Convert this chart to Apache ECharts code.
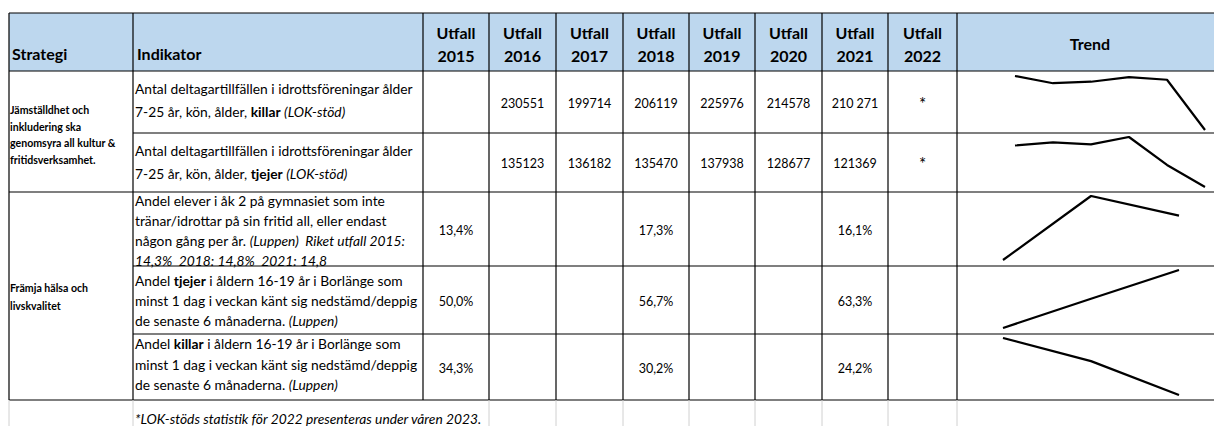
<!DOCTYPE html>
<html>
<head>
<meta charset="utf-8">
<style>
    html, body { margin: 0; padding: 0; background: #fff; }
    #trendTable { width: 1214px; height: 426px; }
</style>
<script src="https://cdn.jsdelivr.net/npm/echarts@6/dist/echarts.min.js"></script>
</head>
<body>
<div id="trendTable"></div>
<script>
    // kolumner
    var years = ['2015', '2016', '2017', '2018', '2019', '2020', '2021', '2022'];
    var strategies = [
        'Jämställdhet och\ninkludering ska\ngenomsyra all kultur &\nfritidsverksamhet.',
        'Främja hälsa och\nlivskvalitet'
    ];
    // {b|..} = fet, {i|..} = kursiv
    var indicators = [
        'Antal deltagartillfällen i idrottsföreningar ålder\n7-25 år, kön, ålder, {b|killar} {i|(LOK-stöd)}',
        'Antal deltagartillfällen i idrottsföreningar ålder\n7-25 år, kön, ålder, {b|tjejer} {i|(LOK-stöd)}',
        'Andel elever i åk 2 på gymnasiet som inte\ntränar/idrottar på sin fritid all, eller endast\nnågon gång per år. {i|(Luppen)  Riket utfall 2015:}\n{i|14,3%  2018: 14,8%  2021: 14,8}',
        'Andel {b|tjejer} i åldern 16-19 år i Borlänge som\nminst 1 dag i veckan känt sig nedstämd/deppig\nde senaste 6 månaderna. {i|(Luppen)}',
        'Andel {b|killar} i åldern 16-19 år i Borlänge som\nminst 1 dag i veckan känt sig nedstämd/deppig\nde senaste 6 månaderna. {i|(Luppen)}'
    ];
    var footnote = '*LOK-stöds statistik för 2022 presenteras under våren 2023.';

    // utfall per år 2015-2022, som de står i tabellen
    var utfallKillarLok = ['', '230551', '199714', '206119', '225976', '214578', '210 271', '*'];
    var utfallTjejerLok = ['', '135123', '136182', '135470', '137938', '128677', '121369', '*'];
    var utfallEjTranar = ['13,4%', '', '', '17,3%', '', '', '16,1%', ''];
    var utfallTjejerNedstamd = ['50,0%', '', '', '56,7%', '', '', '63,3%', ''];
    var utfallKillarNedstamd = ['34,3%', '', '', '30,2%', '', '', '24,2%', ''];

    // trendlinjer (sparklines). LOK 2016-2021; "210 271" är text och räknas som 0
    var trendYearsLok = ['2016', '2017', '2018', '2019', '2020', '2021'];
    var trendKillarLok = [230551, 199714, 206119, 225976, 214578, 0];
    var trendTjejerLok = [135123, 136182, 135470, 137938, 128677, 121369];
    // Luppen 2015-2021
    var trendYearsLuppen = ['2015', '2016', '2017', '2018', '2019', '2020', '2021'];
    var trendEjTranar = [13.4, null, null, 17.3, null, null, 16.1];
    var trendTjejerNedstamd = [50.0, null, null, 56.7, null, null, 63.3];
    var trendKillarNedstamd = [34.3, null, null, 30.2, null, null, 24.2];

    var rows = [utfallKillarLok, utfallTjejerLok, utfallEjTranar, utfallTjejerNedstamd, utfallKillarNedstamd];
    var trends = [
        {x: trendYearsLok, y: trendKillarLok},
        {x: trendYearsLok, y: trendTjejerLok},
        {x: trendYearsLuppen, y: trendEjTranar},
        {x: trendYearsLuppen, y: trendTjejerNedstamd},
        {x: trendYearsLuppen, y: trendKillarNedstamd}
    ];

    // layout
    var FONT = 'Lato, "Open Sans", sans-serif';
    var colX = [9, 133, 423, 489, 556, 623, 689, 755, 822, 888, 957, 1223];
    var rowY = [13, 71, 133, 192, 266, 334, 400];
    var indText = [{y: 99.5, lh: 23}, {y: 161.5, lh: 23}, {y: 230.5, lh: 19.7}, {y: 300.5, lh: 19.7}, {y: 364, lh: 20.5}];
    var sparkBox = [
        {l: 1015, t: 76, w: 190, h: 54},
        {l: 1015, t: 137, w: 190, h: 50},
        {l: 1003, t: 196, w: 176, h: 64},
        {l: 1003, t: 270, w: 176, h: 58},
        {l: 1003, t: 338, w: 176, h: 57}
    ];

    function txt(x, y, text, opt) {
        opt = opt || {};
        var st = {
            x: x, y: y, text: text,
            font: opt.font || ('12px ' + FONT),
            fill: '#000',
            align: opt.align || 'left', textAlign: opt.align || 'left',
            verticalAlign: 'middle', textVerticalAlign: 'middle',
            lineHeight: opt.lh
        };
        if (opt.rich) st.rich = opt.rich;
        return {type: 'text', silent: true, z: 10, style: st};
    }
    function line(x1, y1, x2, y2, color, w) {
        return {type: 'line', silent: true, z: 5,
            shape: {x1: x1, y1: y1, x2: x2, y2: y2},
            style: {stroke: color || '#000', lineWidth: w || 1.2}};
    }

    var graphics = [];
    var L = colX[0], R = colX[colX.length - 1];
    // rubrikrad
    graphics.push({type: 'rect', silent: true, z: 1,
        shape: {x: L, y: rowY[0], width: R - L, height: rowY[1] - rowY[0]},
        style: {fill: '#BDD7EE'}});
    // horisontella linjer
    graphics.push(line(L, rowY[0], R, rowY[0]));
    graphics.push(line(L, rowY[1], R, rowY[1]));
    graphics.push(line(colX[1], rowY[2], R, rowY[2]));
    graphics.push(line(L, rowY[3], R, rowY[3]));
    graphics.push(line(colX[1], rowY[4], R, rowY[4]));
    graphics.push(line(colX[1], rowY[5], R, rowY[5]));
    graphics.push(line(L, rowY[6], R, rowY[6]));
    // vertikala linjer
    colX.forEach(function (x, i) {
        graphics.push(line(x, rowY[0], x, rowY[6]));
        if (i !== 2) graphics.push(line(x, rowY[6], x, 426, '#D0D0D0', 1));
    });

    var bold16 = 'bold 16px ' + FONT;
    graphics.push(txt(12, 53, 'Strategi', {font: bold16}));
    graphics.push(txt(137, 53, 'Indikator', {font: bold16}));
    years.forEach(function (yr, i) {
        var cx = (colX[i + 2] + colX[i + 3]) / 2;
        graphics.push(txt(cx, 43.5, 'Utfall\n' + yr, {font: bold16, align: 'center', lh: 23}));
    });
    graphics.push(txt((colX[10] + colX[11]) / 2, 43, 'Trend', {font: bold16, align: 'center'}));

    // strategier
    var stratFont = 'bold 10.6px ' + FONT;
    graphics.push(txt(10, 135, strategies[0], {font: stratFont, lh: 16.7}));
    graphics.push(txt(10, 297, strategies[1], {font: stratFont, lh: 18}));

    // indikatorer
    var indSize = '13.8px ';
    var rich = {
        b: {font: 'bold ' + indSize + FONT, fill: '#000'},
        i: {font: 'italic ' + indSize + FONT, fill: '#000'}
    };
    indicators.forEach(function (s, i) {
        graphics.push(txt(135, indText[i].y, s, {font: indSize + FONT, lh: indText[i].lh, rich: rich}));
    });

    // värden
    rows.forEach(function (vals, r) {
        var cy = (rowY[r + 1] + rowY[r + 2]) / 2;
        vals.forEach(function (v, i) {
            if (v === '') return;
            var cx = (colX[i + 2] + colX[i + 3]) / 2;
            var star = v === '*';
            graphics.push(txt(cx, star ? cy + 1 : cy + 1, v, {font: (star ? '17px ' : '12.5px ') + FONT, align: 'center'}));
        });
    });

    // fotnot
    graphics.push(txt(135, 418, footnote, {font: 'italic ' + indSize + FONT}));

    var grid = [], xAxis = [], yAxis = [], series = [];
    trends.forEach(function (t, i) {
        var b = sparkBox[i];
        grid.push({left: b.l, top: b.t, width: b.w, height: b.h});
        xAxis.push({type: 'category', gridIndex: i, data: t.x, boundaryGap: false, show: false});
        yAxis.push({type: 'value', gridIndex: i, min: 'dataMin', max: 'dataMax', scale: true, show: false});
        series.push({
            type: 'line', xAxisIndex: i, yAxisIndex: i, data: t.y,
            connectNulls: true, showSymbol: false, silent: true,
            lineStyle: {color: '#000', width: 2.2},
            z: 20
        });
    });

    var chart = echarts.init(document.getElementById('trendTable'), null, {renderer: 'svg'});
    chart.setOption({
        animation: false,
        grid: grid,
        xAxis: xAxis,
        yAxis: yAxis,
        series: series,
        graphic: graphics
    });
</script>
</body>
</html>
